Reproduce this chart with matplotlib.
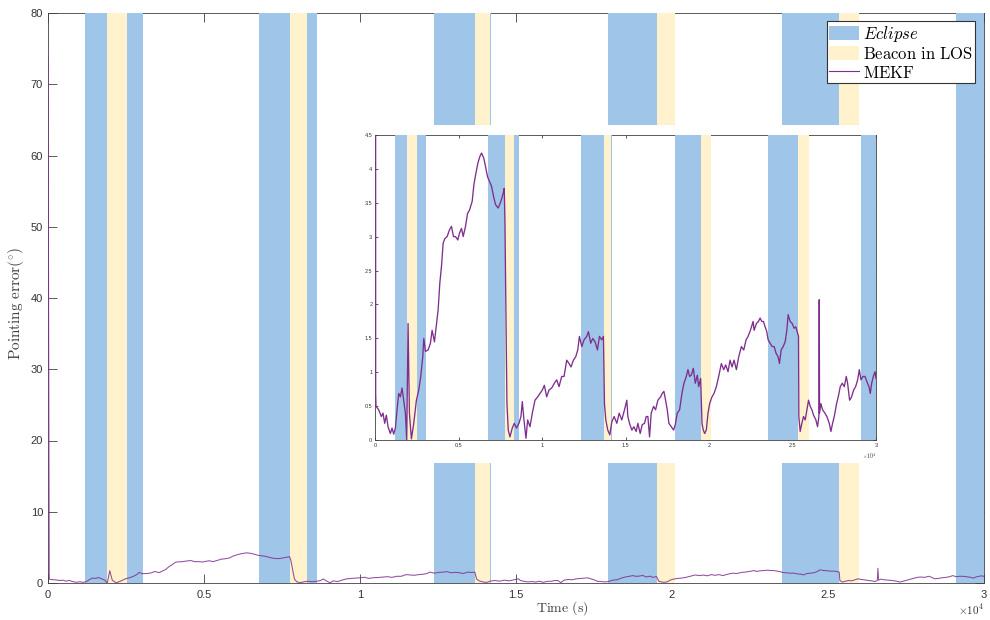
import matplotlib
matplotlib.use("Agg")
import matplotlib.pyplot as plt
from matplotlib.patches import Patch, Rectangle
from matplotlib.lines import Line2D

plt.rcParams['mathtext.fontset'] = 'cm'
plt.rcParams['font.family'] = ['Liberation Sans', 'DejaVu Sans']

# eclipse and beacon-in-LOS windows (s)
eclipse_start = [1195, 6775, 12360, 17950, 23535, 29110]
eclipse_end = [3040, 8615, 14200, 19790, 25375, 30000]
beacon_start = [1890, 7765, 13690, 19535, 25350]
beacon_end = [2530, 8310, 14160, 20090, 25990]

# MEKF pointing error (deg)
t = [0, 40, 60, 220, 380, 480, 580, 680, 780, 920, 1020, 1120, 1220, 1320, 1420,
     1520, 1620, 1720, 1820, 1900, 1980, 2060, 2180, 2320, 2480, 2620, 2740, 2860,
     2920, 3020, 3180, 3320, 3420, 3560, 3660, 3780, 3880, 3980, 4080, 4180, 4320,
     4460, 4580, 4700, 4820, 4960, 5060, 5180, 5280, 5420, 5540, 5660, 5820, 5920,
     6040, 6160, 6280, 6380, 6520, 6620, 6740, 6860, 6980, 7100, 7220, 7380, 7540,
     7680, 7740, 7780, 7900, 7980, 8080, 8220, 8340, 8480, 8620, 8740, 8820, 8920,
     9040, 9140, 9280, 9420, 9580, 9740, 9880, 10020, 10140, 10280, 10420, 10580,
     10740, 10880, 11020, 11180, 11320, 11480, 11620, 11740, 11880, 12020, 12140,
     12240, 12380, 12520, 12680, 12780, 12920, 13040, 13180, 13320, 13440, 13580,
     13680, 13740, 13820, 13940, 14060, 14180, 14320, 14480, 14620, 14780, 14940,
     15080, 15140, 15240, 15380, 15500, 15640, 15740, 15880, 16000, 16140, 16240,
     16340, 16440, 16540, 16680, 16800, 16940, 17100, 17200, 17300, 17400, 17500,
     17600, 17740, 17880, 17980, 18100, 18240, 18380, 18500, 18640, 18740, 18840,
     18940, 19060, 19180, 19300, 19380, 19500, 19580, 19660, 19740, 19840, 19940,
     20040, 20180, 20300, 20440, 20580, 20740, 20880, 21000, 21140, 21260, 21380,
     21500, 21640, 21780, 21940, 22080, 22220, 22340, 22480, 22640, 22700, 22840,
     22960, 23060, 23160, 23260, 23360, 23460, 23540, 23660, 23780, 23900, 24020,
     24140, 24220, 24320, 24440, 24560, 24660, 24740, 24860, 24980, 25100, 25200,
     25300, 25360, 25380, 25460, 25560, 25660, 25760, 25860, 25960, 26060, 26160,
     26260, 26400, 26500, 26580, 26600, 26620, 26700, 26800, 26940, 27060, 27200,
     27300, 27400, 27500, 27640, 27740, 27860, 27980, 28100, 28220, 28300, 28420,
     28540, 28660, 28780, 28900, 29000, 29100, 29220, 29340, 29460, 29580, 29660,
     29740, 29840, 29940, 30000]
err = [74, 0.69, 0.50, 0.45, 0.35, 0.40, 0.25, 0.37, 0.20, 0.10, 0.18, 0.09, 0.18,
       0.45, 0.69, 0.64, 0.77, 0.59, 0.40, 0.0, 1.72, 0.40, 0.02, 0.25, 0.59, 0.74,
       0.94, 1.23, 1.50, 1.31, 1.33, 1.43, 1.62, 1.45, 1.67, 1.92, 2.31, 2.56, 2.90,
       2.97, 3.00, 3.10, 3.15, 3.00, 3.00, 2.95, 3.05, 3.12, 3.00, 3.15, 3.34, 3.39,
       3.52, 3.76, 3.93, 4.08, 4.18, 4.23, 4.15, 4.03, 3.88, 3.81, 3.74, 3.59, 3.47,
       3.42, 3.52, 3.64, 3.71, 3.24, 0.54, 0.15, 0.05, 0.18, 0.25, 0.18, 0.25, 0.35,
       0.57, 0.30, 0.03, 0.30, 0.20, 0.40, 0.59, 0.64, 0.69, 0.74, 0.81, 0.64, 0.74,
       0.77, 0.84, 0.89, 0.79, 0.94, 0.94, 1.18, 1.13, 1.08, 1.18, 1.23, 1.33, 1.53,
       1.38, 1.48, 1.53, 1.60, 1.43, 1.50, 1.45, 1.33, 1.53, 1.48, 1.53, 0.54, 0.30,
       0.15, 0.08, 0.27, 0.35, 0.25, 0.40, 0.30, 0.45, 0.59, 0.35, 0.25, 0.15, 0.20,
       0.13, 0.25, 0.10, 0.23, 0.25, 0.35, 0.35, 0.05, 0.40, 0.50, 0.45, 0.59, 0.64,
       0.69, 0.72, 0.59, 0.45, 0.25, 0.20, 0.15, 0.23, 0.40, 0.45, 0.69, 0.84, 0.94,
       1.04, 0.94, 0.96, 1.06, 0.84, 0.96, 0.79, 0.91, 0.25, 0.15, 0.10, 0.15, 0.40,
       0.54, 0.64, 0.69, 0.79, 0.94, 1.13, 1.04, 1.11, 1.01, 1.18, 1.08, 1.18, 1.04,
       1.23, 1.38, 1.33, 1.48, 1.53, 1.62, 1.75, 1.62, 1.72, 1.75, 1.80, 1.75, 1.75,
       1.67, 1.60, 1.48, 1.43, 1.38, 1.38, 1.28, 1.23, 1.13, 1.33, 1.38, 1.45, 1.62,
       1.85, 1.75, 1.72, 1.65, 1.67, 1.58, 1.53, 0.35, 0.13, 0.25, 0.35, 0.30, 0.45,
       0.59, 0.50, 0.45, 0.37, 0.30, 0.20, 0.35, 2.07, 0.40, 0.54, 0.45, 0.40, 0.35,
       0.25, 0.13, 0.25, 0.35, 0.54, 0.64, 0.79, 0.84, 0.79, 0.94, 0.84, 0.59, 0.64,
       0.74, 0.79, 0.89, 1.04, 0.89, 0.94, 0.94, 0.86, 0.79, 0.69, 0.84, 0.94, 1.01,
       0.91]

main_xticks = [0, 5000, 10000, 15000, 20000, 25000, 30000]
main_xlabels = ['0', '0.5', '1', '1.5', '2', '2.5', '3']
main_yticks = [0, 10, 20, 30, 40, 50, 60, 70, 80]
inset_yticks = [0, 0.5, 1, 1.5, 2, 2.5, 3, 3.5, 4, 4.5]
inset_ylabels = ['0', '0.5', '1', '1.5', '2', '2.5', '3', '3.5', '4', '4.5']

blue = '#9FC5E8'
yellow = '#FFF2CC'
purple = '#7E2F8E'
axcol = '#404040'


def draw_windows(ax):
    for s, e in zip(eclipse_start, eclipse_end):
        ax.axvspan(s, e, color=blue, lw=0, zorder=1, clip_on=False)
    for s, e in zip(beacon_start, beacon_end):
        ax.axvspan(s, e, color=yellow, lw=0, zorder=1.1, clip_on=False)


def style_axes(ax, ticklen, labelsize):
    for sp in ax.spines.values():
        sp.set_zorder(0.5)
        sp.set_color(axcol)
        sp.set_linewidth(0.6)
    ax.set_axisbelow(True)
    ax.tick_params(direction='in', top=True, right=True, length=ticklen,
                   width=0.6, color=axcol, labelcolor='#333333',
                   labelsize=labelsize)


fig = plt.figure(figsize=(9.9, 6.2), dpi=100)
ax = fig.add_axes([48 / 990, 37 / 620, 936 / 990, 570 / 620])
draw_windows(ax)
ax.plot(t, err, color=purple, lw=0.75, alpha=0.85, zorder=2)
ax.set_xlim(0, 30000)
ax.set_ylim(0, 80)
ax.set_xticks(main_xticks)
ax.set_xticklabels(main_xlabels)
ax.set_yticks(main_yticks)
style_axes(ax, 6.5, 8)
ax.tick_params(axis='x', pad=5)
ax.set_xlabel(r'$\mathrm{Time\ (s)}$', fontsize=10, color=axcol)
ax.xaxis.set_label_coords(0.549, -0.028)
ax.set_ylabel(r'$\mathrm{Pointing\ error(^{\circ})}$', fontsize=11, color=axcol)
ax.yaxis.set_label_coords(-0.024, 0.49)
fig.text(984 / 990, 10 / 620, r'$\times10^{4}$', ha='right', va='center',
         fontsize=8, color='#333333')

handles = [Patch(facecolor=blue, edgecolor='none'),
           Patch(facecolor=yellow, edgecolor='none'),
           Line2D([], [], color=purple, lw=0.8)]
labels = [r'$Eclipse$', r'$\mathrm{Beacon\ in\ LOS}$', r'$\mathrm{MEKF}$']
leg = ax.legend(handles, labels, loc='upper right',
                bbox_to_anchor=(975 / 990, 599 / 620),
                bbox_transform=fig.transFigure, borderaxespad=0,
                fontsize=12, fancybox=False, framealpha=1, edgecolor='#333333',
                handlelength=1.8, handleheight=0.95, handletextpad=0.2,
                labelspacing=0.15, borderpad=0.15)
leg.get_frame().set_linewidth(0.8)
leg.set_zorder(5)

# white backing behind the zoomed view
fig.add_artist(Rectangle((350 / 990, 157 / 620), 545 / 990, 338 / 620,
                         transform=fig.transFigure, facecolor='white',
                         edgecolor='none', zorder=1))

axi = fig.add_axes([375 / 990, 179.7 / 620, 501 / 990, 305.6 / 620])
axi.set_zorder(2)
draw_windows(axi)
axi.plot(t, err, color=purple, lw=0.95, zorder=2)
axi.set_xlim(0, 30000)
axi.set_ylim(0, 4.5)
axi.set_xticks(main_xticks)
axi.set_xticklabels(main_xlabels)
axi.set_yticks(inset_yticks)
axi.set_yticklabels(inset_ylabels)
style_axes(axi, 2.5, 4)
axi.tick_params(pad=2)
fig.text(876 / 990, 164 / 620, r'$\times10^{4}$', ha='right', va='center',
         fontsize=4, color='#333333')

fig.savefig('out.png', dpi=100)
